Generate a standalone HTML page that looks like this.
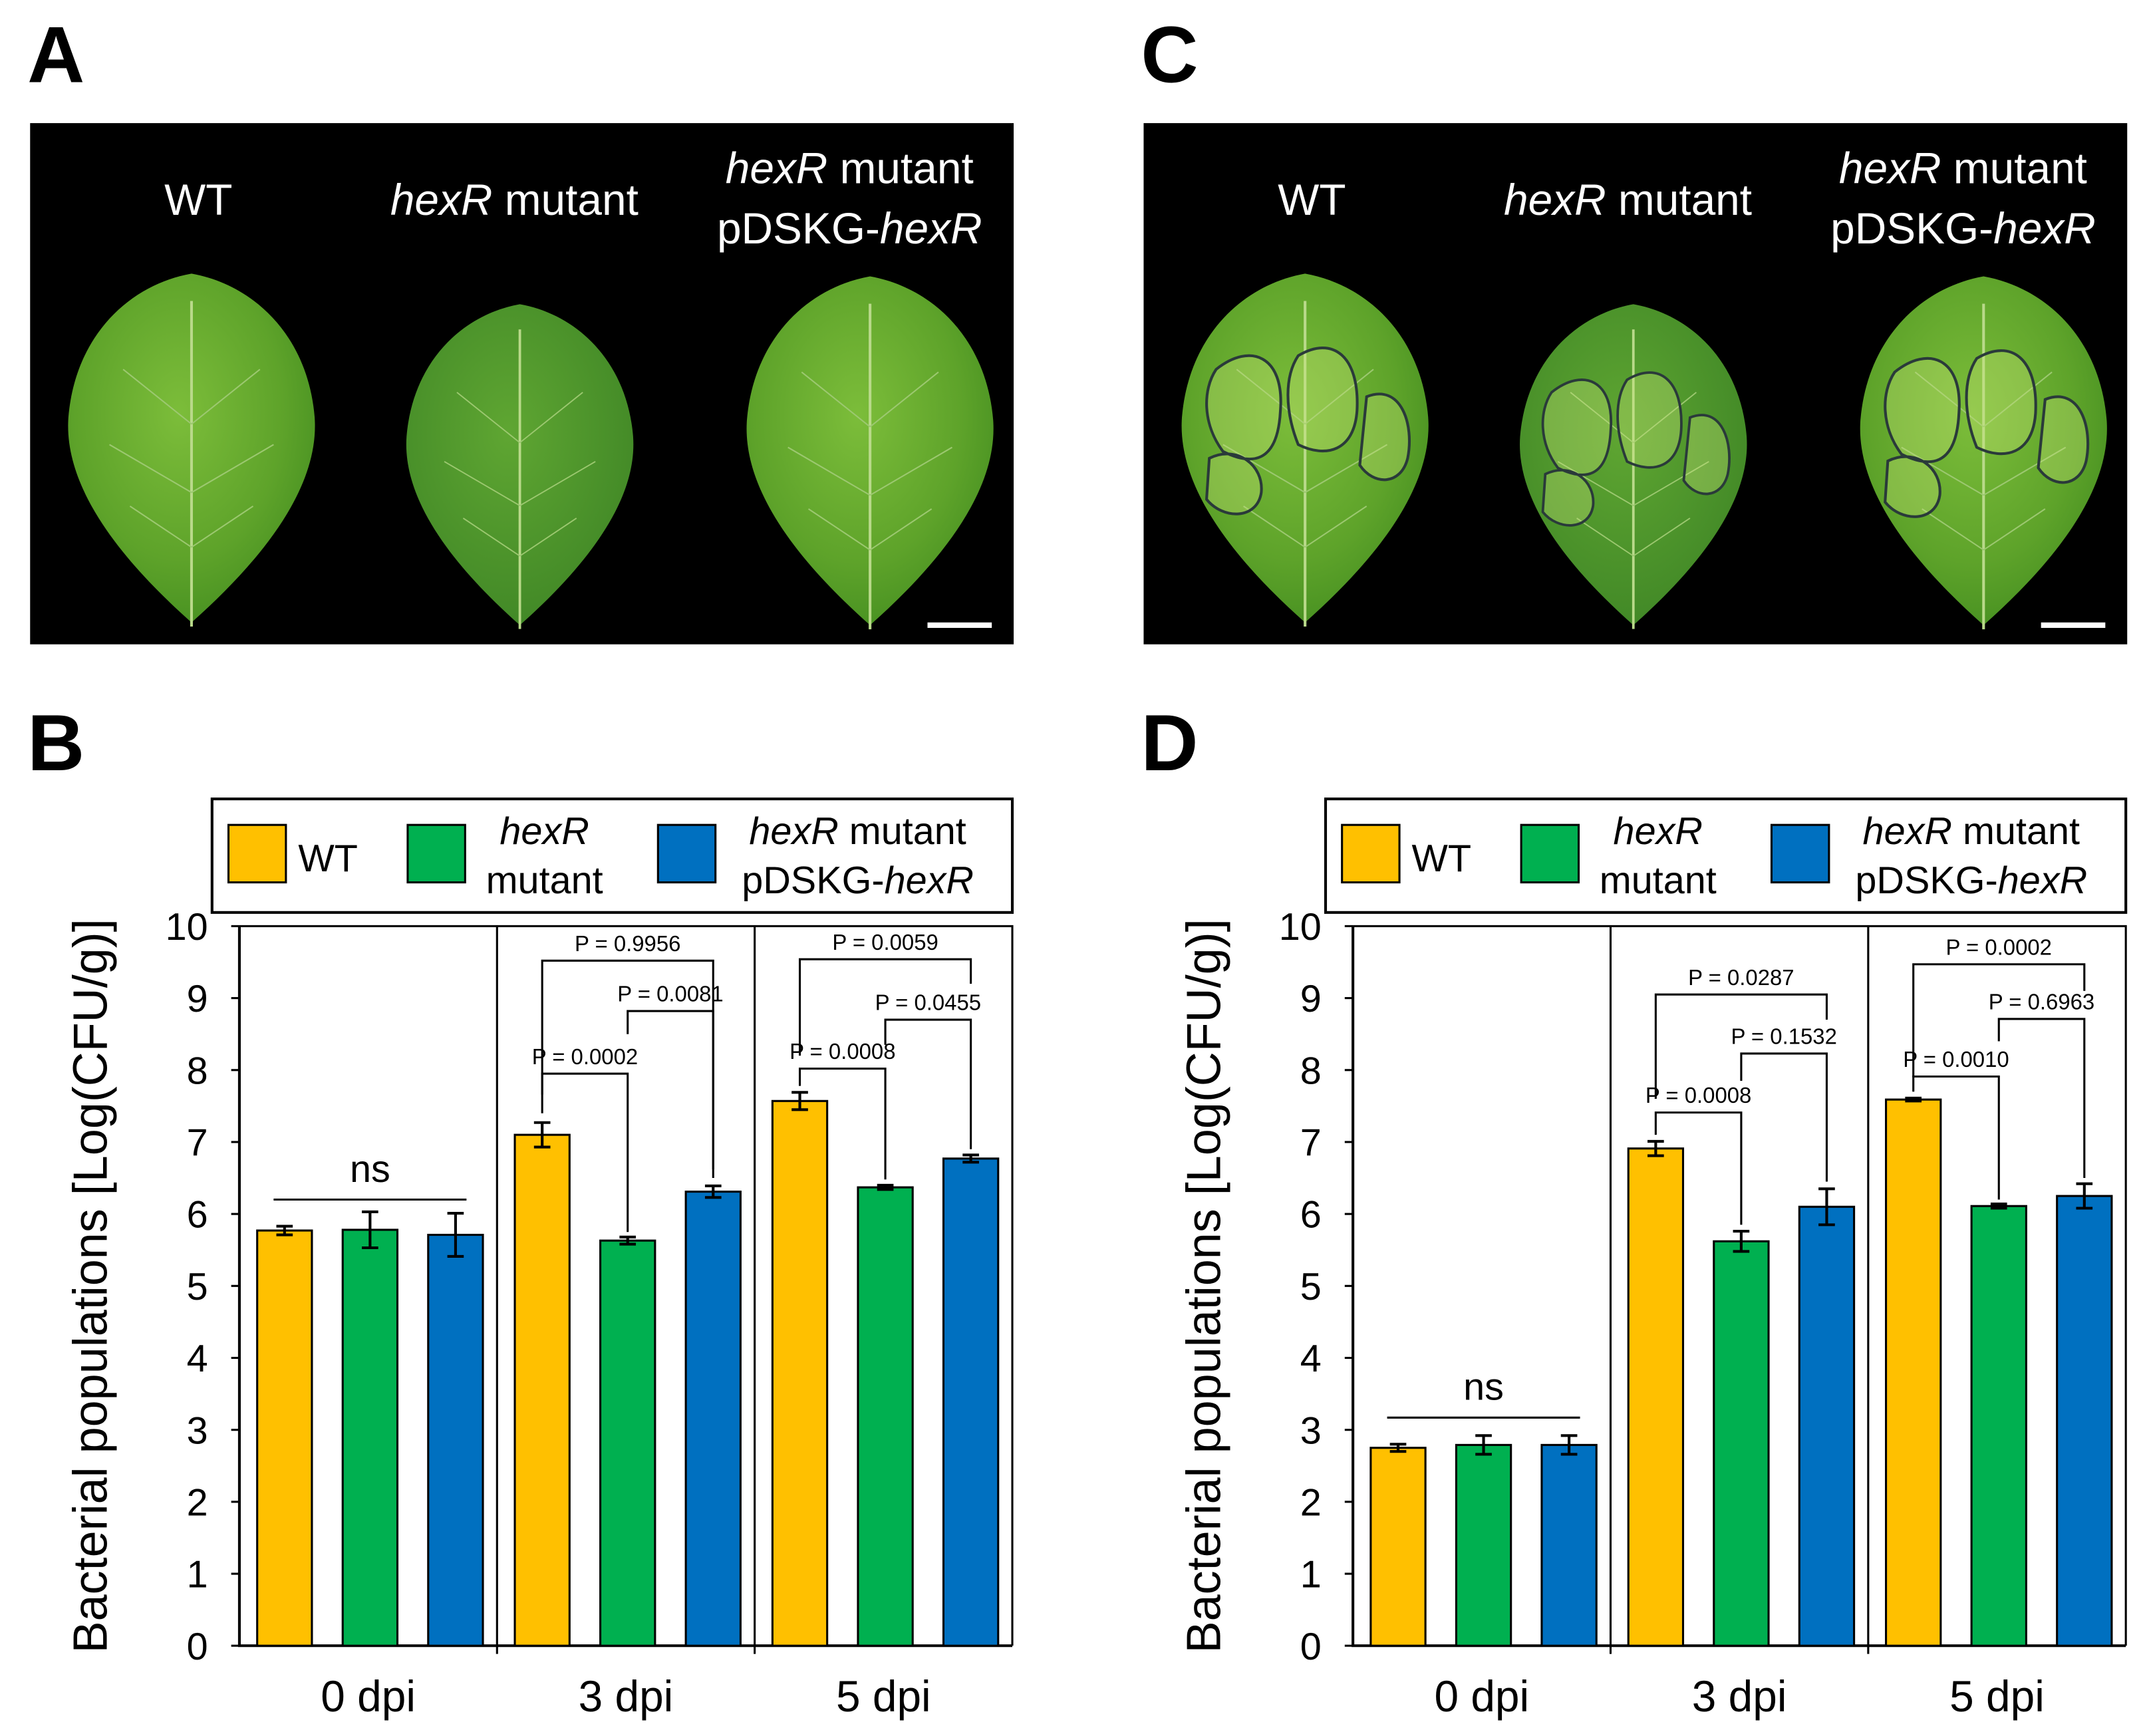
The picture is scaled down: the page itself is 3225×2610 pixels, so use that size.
<!DOCTYPE html>
<html><head><meta charset="utf-8"><style>
html,body{margin:0;padding:0;background:#fff;}
svg{display:block;font-family:"Liberation Sans",Arial,sans-serif;}
</style></head><body>
<svg id="fig" width="3225" height="2610" viewBox="0 0 1568 1269" xmlns="http://www.w3.org/2000/svg">
<defs>
<radialGradient id="leafG" cx="0.45" cy="0.4" r="0.7">
<stop offset="0" stop-color="#7cbd3a"/><stop offset="0.6" stop-color="#5ea32a"/><stop offset="1" stop-color="#3f8a1e"/></radialGradient>
<radialGradient id="leafG2" cx="0.45" cy="0.4" r="0.7">
<stop offset="0" stop-color="#5fa632"/><stop offset="1" stop-color="#3d8425"/></radialGradient>
</defs>
<g id="root"></g>
</svg>
<script>
// ---- Panel B data ----
const categories = ['0 dpi','3 dpi','5 dpi'];
const seriesNames = ['WT','hexR mutant','hexR mutant pDSKG-hexR'];
const yTicks = [0,1,2,3,4,5,6,7,8,9,10];
const bWT = [5.77, 7.10, 7.57];
const bMut = [5.78, 5.63, 6.37];
const bComp = [5.71, 6.31, 6.77];
const bWTerr = [0.06, 0.17, 0.12];
const bMutErr = [0.25, 0.05, 0.03];
const bCompErr = [0.30, 0.08, 0.05];
// brackets: group, leftBar, rightBar, level, leftEnd, rightEnd, label
const bBrGroup = [1,1,1,2,2,2];
const bBrL = [0,0,1,0,0,1];
const bBrR = [1,2,2,1,2,2];
const bBrLevel = [7.95,9.52,8.82,8.02,9.54,8.70];
const bBrLEnd = [7.40,7.66,8.50,7.78,8.20,8.35];
const bBrREnd = [5.75,6.62,6.50,6.48,9.20,6.90];
const bBrLabel = ['P = 0.0002','P = 0.9956','P = 0.0081','P = 0.0008','P = 0.0059','P = 0.0455'];
const bNsLevel = 6.2;
// ---- Panel D data ----
const dWT = [2.75, 6.91, 7.59];
const dMut = [2.79, 5.62, 6.11];
const dComp = [2.79, 6.10, 6.25];
const dWTerr = [0.05, 0.10, 0.02];
const dMutErr = [0.13, 0.14, 0.03];
const dCompErr = [0.13, 0.25, 0.17];
const dBrGroup = [1,1,1,2,2,2];
const dBrL = [0,0,1,0,0,1];
const dBrR = [1,2,2,1,2,2];
const dBrLevel = [7.41,9.05,8.23,7.91,9.47,8.71];
const dBrLEnd = [7.10,7.60,7.85,7.70,7.90,8.40];
const dBrREnd = [5.85,8.70,6.45,6.20,9.10,6.50];
const dBrLabel = ['P = 0.0008','P = 0.0287','P = 0.1532','P = 0.0010','P = 0.0002','P = 0.6963'];
const dNsLevel = 3.17;

const NS='http://www.w3.org/2000/svg';
const root=document.getElementById('root');
function mk(tag,attrs,parent,text){const e=document.createElementNS(NS,tag);for(const k in attrs)e.setAttribute(k,attrs[k]);if(text!==undefined)e.textContent=text;(parent||root).appendChild(e);return e;}
const colors=['#ffc000','#00b050','#0070c0'];

function photoPanel(ox,letter,c){
  const g=mk('g',{transform:`translate(${ox},0)`});
  
  
  const L=mk('text',{x:20,y:60,'font-size':58,'font-weight':'bold'},g,letter);
  
  
  const r=mk('rect',{x:22,y:90,width:719,height:381,fill:'#000'},g);
  
  
  const leaves=[[140,330,1.0],[380,342,0.92],[636,332,1.0]];
  leaves.forEach((lf,i)=>{
    const lg=mk('g',{transform:`translate(${lf[0]},${lf[1]}) scale(${lf[2]})`},g);
    
    
    mk('path',{d:'M0,-130 C45,-122 85,-85 90,-25 C94,30 45,85 0,125 C-45,85 -94,30 -90,-25 C-85,-85 -45,-122 0,-130 Z',fill:i==1?'url(#leafG2)':'url(#leafG)'},lg);
    mk('path',{d:'M0,-110 L0,128',stroke:'#b9d98a','stroke-width':2},lg);
    mk('path',{d:'M0,-20 L-50,-60 M0,-20 L50,-60 M0,30 L-60,-5 M0,30 L60,-5 M0,70 L-45,40 M0,70 L45,40',stroke:'#9cc870','stroke-width':1,fill:'none'},lg);
    if(c){
      mk('path',{d:'M-65,-60 C-40,-80 -15,-70 -18,-30 C-20,10 -40,10 -60,0 C-75,-20 -75,-45 -65,-60 Z M-5,-70 C20,-85 40,-70 38,-30 C36,0 15,5 -5,-5 C-15,-30 -15,-55 -5,-70 Z M-70,5 C-50,-5 -30,10 -32,30 C-35,50 -60,50 -72,35 Z M45,-40 C70,-50 80,-20 75,5 C70,25 50,25 40,10 Z',fill:'rgba(200,230,120,0.35)',stroke:'#2a3a3a','stroke-width':2},lg);
    }
  });
  const t1=mk('text',{x:145,y:157,'font-size':32,fill:'#fff','text-anchor':'middle'},g,'WT');
  
  const t2=mk('text',{x:376,y:157,'font-size':32,fill:'#fff','text-anchor':'middle'},g);
  mk('tspan',{'font-style':'italic'},t2,'hexR');mk('tspan',{},t2,' mutant');
  
  const t3=mk('text',{x:621,y:134,'font-size':32,fill:'#fff','text-anchor':'middle'},g);
  mk('tspan',{'font-style':'italic'},t3,'hexR');mk('tspan',{},t3,' mutant');
  
  const t4=mk('text',{x:621,y:178,'font-size':32,fill:'#fff','text-anchor':'middle'},g);
  mk('tspan',{},t4,'pDSKG-');mk('tspan',{'font-style':'italic'},t4,'hexR');
  
  const sb=mk('rect',{x:678,y:455,width:47,height:4,fill:'#fff'},g);
  
}
photoPanel(0,'A',false);
photoPanel(814,'C',true);

function chart(ox,letter,vals,errs,brG,brL,brR,brLev,brLE,brRE,brLab,nsLev){
  const g=mk('g',{transform:`translate(${ox},0)`});
  
  
  const L=mk('text',{x:20,y:563,'font-size':58,'font-weight':'bold'},g,letter);
  
  
  const x0=175,x1=740,yTop=677,yBot=1203;
  const y=v=>yBot-(v/10)*(yBot-yTop);
  const groupW=(x1-x0)/3;
  const barW=40, step=62.5;
  const bx=(gi,si)=>x0+gi*groupW+13+si*step;
  const bc=(gi,si)=>bx(gi,si)+barW/2;
  const lg=mk('g',{},g);
  
  mk('rect',{x:155,y:584,width:585,height:83,fill:'#fff',stroke:'#000','stroke-width':2},lg);
  const sw=[167,298,481];
  sw.forEach((sx,i)=>{const r=mk('rect',{x:sx,y:603,width:42,height:42,fill:colors[i],stroke:'#000','stroke-width':1.5},lg);
    });
  const lt1=mk('text',{x:218,y:637,'font-size':28},lg,'WT');
  
  const lt2=mk('text',{x:398,y:617,'font-size':28,'text-anchor':'middle','font-style':'italic'},lg,'hexR');
  
  mk('text',{x:398,y:653,'font-size':28,'text-anchor':'middle'},lg,'mutant');
  const lt3=mk('text',{x:627,y:617,'font-size':28,'text-anchor':'middle'},lg);
  mk('tspan',{'font-style':'italic'},lt3,'hexR');mk('tspan',{},lt3,' mutant');
  
  const lt4=mk('text',{x:627,y:653,'font-size':28,'text-anchor':'middle'},lg);
  mk('tspan',{},lt4,'pDSKG-');mk('tspan',{'font-style':'italic'},lt4,'hexR');
  const fr=mk('path',{d:`M${x0},${yTop} L${x1},${yTop} L${x1},${yBot} M${x0+groupW},${yTop} L${x0+groupW},${yBot+6} M${x0+2*groupW},${yTop} L${x0+2*groupW},${yBot+6}`,stroke:'#000','stroke-width':1.5,fill:'none'},g);
  
  const ax=mk('path',{d:`M${x0},${yTop} L${x0},${yBot} L${x1},${yBot}`,stroke:'#000','stroke-width':2,fill:'none'},g);
  
  yTicks.forEach(t=>{
    mk('line',{x1:x0-6,x2:x0,y1:y(t),y2:y(t),stroke:'#000','stroke-width':1.5},g);
    const tl=mk('text',{x:x0-23,y:y(t)+10,'font-size':28,'text-anchor':'end'},g,String(t));
    
  });
  const yt=mk('text',{transform:`translate(78,${(yTop+yBot)/2}) rotate(-90)`,'font-size':35,'text-anchor':'middle'},g,'Bacterial populations [Log(CFU/g)]');
  
  categories.forEach((c,gi)=>{
    const ct=mk('text',{x:x0+groupW*(gi+0.5),y:1251,'font-size':32,'text-anchor':'middle'},g,c);
    
  });
  vals.forEach((arr,si)=>{arr.forEach((v,gi)=>{
    const b=mk('rect',{x:bx(gi,si),y:y(v),width:barW,height:yBot-y(v),fill:colors[si],stroke:'#000','stroke-width':1.5},g);
    
    
    const e=errs[si][gi],cx=bc(gi,si);
    const eb=mk('path',{d:`M${cx},${y(v+e)} L${cx},${y(v-e)} M${cx-6},${y(v+e)} L${cx+6},${y(v+e)} M${cx-6},${y(v-e)} L${cx+6},${y(v-e)}`,stroke:'#000','stroke-width':2,fill:'none'},g);
    
  });});
  brLab.forEach((lab,i)=>{
    const xl=bc(brG[i],brL[i]),xr=bc(brG[i],brR[i]),yl=y(brLev[i]);
    const p=mk('path',{d:`M${xl},${y(brLE[i])} L${xl},${yl} L${xr},${yl} L${xr},${y(brRE[i])}`,stroke:'#000','stroke-width':1.5,fill:'none'},g);
    
    const t=mk('text',{x:(xl+xr)/2,y:yl-7,'font-size':16,'text-anchor':'middle'},g,lab);
    
  });
  const ny=y(nsLev);
  const nl=mk('line',{x1:bc(0,0)-8,x2:bc(0,2)+8,y1:ny,y2:ny,stroke:'#000','stroke-width':1.5},g);
  
  const nt=mk('text',{x:bc(0,1),y:ny-13,'font-size':28,'text-anchor':'middle'},g,'ns');
  
}
chart(0,'B',[bWT,bMut,bComp],[bWTerr,bMutErr,bCompErr],bBrGroup,bBrL,bBrR,bBrLevel,bBrLEnd,bBrREnd,bBrLabel,bNsLevel);
chart(814,'D',[dWT,dMut,dComp],[dWTerr,dMutErr,dCompErr],dBrGroup,dBrL,dBrR,dBrLevel,dBrLEnd,dBrREnd,dBrLabel,dNsLevel);
</script>
</body></html>
